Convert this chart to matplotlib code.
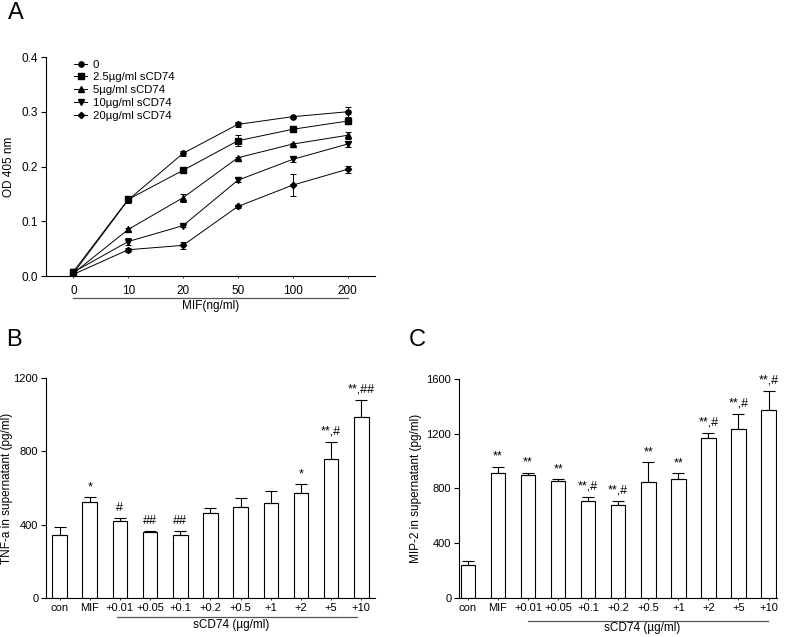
import numpy as np
import matplotlib
matplotlib.use("Agg")
import matplotlib.pyplot as plt
import matplotlib.transforms as mtransforms
from matplotlib.lines import Line2D

plt.rcParams['font.family'] = ['Liberation Sans', 'DejaVu Sans']
plt.rcParams['font.size'] = 8.5
plt.rcParams['axes.linewidth'] = 0.8

# Panel A data
mif_labels = ['0', '10', '20', '50', '100', '200']
series_names = ['0', '2.5\u00b5g/ml sCD74', '5\u00b5g/ml sCD74', '10\u00b5g/ml sCD74', '20\u00b5g/ml sCD74']
series_markers = ['o', 's', '^', 'v', 'D']
od_0 = [0.005, 0.139, 0.224, 0.277, 0.291, 0.300]
od_25 = [0.008, 0.140, 0.193, 0.247, 0.268, 0.283]
od_5 = [0.005, 0.085, 0.143, 0.216, 0.241, 0.257]
od_10 = [0.007, 0.063, 0.092, 0.175, 0.213, 0.241]
od_20 = [0.003, 0.048, 0.056, 0.127, 0.166, 0.195]
err_0 = [0.005, 0.005, 0.004, 0.004, 0.002, 0.009]
err_25 = [0.005, 0.005, 0.003, 0.010, 0.004, 0.005]
err_5 = [0.004, 0.002, 0.007, 0.002, 0.002, 0.006]
err_10 = [0.005, 0.007, 0.002, 0.004, 0.004, 0.006]
err_20 = [0.004, 0.004, 0.007, 0.003, 0.020, 0.006]

# Panels B and C data
bar_labels = ['con', 'MIF', '+0.01', '+0.05', '+0.1', '+0.2', '+0.5', '+1', '+2', '+5', '+10']
tnf = [345, 525, 421, 361, 345, 463, 498, 516, 574, 760, 987]
tnf_err = [40, 24, 13, 3, 20, 29, 49, 68, 46, 93, 94]
tnf_sig = ['', '*', '#', '##', '##', '', '', '', '*', '**,#', '**,##']
mip = [238, 912, 895, 851, 705, 676, 849, 866, 1165, 1231, 1374]
mip_err = [34, 46, 17, 15, 32, 34, 141, 44, 41, 111, 136]
mip_sig = ['', '**', '**', '**', '**,#', '**,#', '**', '**', '**,#', '**,#', '**,#']

fig = plt.figure(figsize=(7.87, 6.37), dpi=100)

# ---- Panel A ----
axA = fig.add_axes([0.0584, 0.5667, 0.418, 0.3438])
xA = np.arange(len(mif_labels))
handles = []
for vals, errs, mk, name in zip([od_0, od_25, od_5, od_10, od_20],
                                [err_0, err_25, err_5, err_10, err_20],
                                series_markers, series_names):
    ms = 3.2 if mk == 'D' else 3.8
    axA.errorbar(xA, vals, yerr=errs, color='black', lw=0.7, marker=mk, ms=ms,
                 capsize=2.5, elinewidth=0.7, capthick=0.7)
    handles.append(Line2D([], [], color='black', lw=0.7, marker=mk, ms=ms, label=name))
axA.set_xlim(-0.5, 5.5)
axA.set_ylim(0, 0.4)
axA.set_yticks([0, 0.1, 0.2, 0.3, 0.4])
axA.set_yticklabels(['0.0', '0.1', '0.2', '0.3', '0.4'])
axA.set_xticks(xA)
axA.set_xticklabels(mif_labels)
axA.tick_params(axis='x', length=1.5, width=0.6, pad=5)
axA.tick_params(axis='y', length=3.5, width=0.8, pad=2)
axA.spines[['top', 'right']].set_visible(False)
axA.set_ylabel('OD 405 nm')
axA.yaxis.set_label_coords(-0.094, 0.5)
axA.legend(handles=handles, loc='upper left', bbox_to_anchor=(0.055, 1.035), frameon=False,
           handlelength=1.1, handletextpad=0.5, labelspacing=0.25, fontsize=8.2)
transA = mtransforms.blended_transform_factory(axA.transData, axA.transAxes)
axA.plot([0, 5], [-0.1, -0.1], color='#555555', lw=0.9, transform=transA, clip_on=False)
axA.text(2.5, -0.137, 'MIF(ng/ml)', transform=transA, ha='center', va='center', fontsize=8.5)
fig.text(0.010, 0.997, 'A', fontsize=17, va='top', ha='left')


def bar_panel(rect, vals, errs, sigs, ylim, yticks, ylabel, xlim, lab_x,
              br_x, br_y, txt_y, letter, letter_pos):
    ax = fig.add_axes(rect)
    x = np.arange(len(bar_labels))
    ax.bar(x, vals, width=0.48, color='white', edgecolor='black', lw=0.8)
    ax.errorbar(x, vals, yerr=[np.zeros(len(errs)), errs], fmt='none', ecolor='black',
                elinewidth=0.8, capsize=4, capthick=0.8)
    for xi, v, e, s in zip(x, vals, errs, sigs):
        if s:
            ax.text(xi, v + e + ylim[1] * 0.02, s, ha='center', va='bottom', fontsize=9)
    ax.set_xlim(*xlim)
    ax.set_ylim(*ylim)
    ax.set_yticks(yticks)
    ax.set_xticks(x)
    ax.set_xticklabels(bar_labels, fontsize=8)
    ax.tick_params(axis='x', length=1.5, width=0.6, pad=2)
    ax.tick_params(axis='y', length=3.5, width=0.8, pad=2, labelsize=8)
    ax.spines[['top', 'right']].set_visible(False)
    ax.set_ylabel(ylabel)
    ax.yaxis.set_label_coords(lab_x, 0.5)
    tr = mtransforms.blended_transform_factory(ax.transData, ax.transAxes)
    ax.plot(br_x, [br_y, br_y], color='#555555', lw=0.9, transform=tr, clip_on=False)
    ax.text(sum(br_x) / 2 - 0.2, txt_y, 'sCD74 (\u00b5g/ml)', transform=tr,
            ha='center', va='center', fontsize=8.5)
    fig.text(letter_pos[0], letter_pos[1], letter, fontsize=17, va='top', ha='left')
    return ax


bar_panel([0.0584, 0.0612, 0.418, 0.3454], tnf, tnf_err, tnf_sig, (0, 1200),
          [0, 400, 800, 1200], 'TNF-a in supernatant (pg/ml)', (-0.45, 10.45), -0.10,
          [1.92, 9.85], -0.086, -0.123, 'B', (0.008, 0.483))
bar_panel([0.5832, 0.0612, 0.404, 0.344], mip, mip_err, mip_sig, (0, 1600),
          [0, 400, 800, 1200, 1600], 'MIP-2 in supernatant (pg/ml)', (-0.3, 10.28), -0.116,
          [1.99, 9.97], -0.105, -0.136, 'C', (0.519, 0.483))

fig.savefig('out.png', dpi=100)
